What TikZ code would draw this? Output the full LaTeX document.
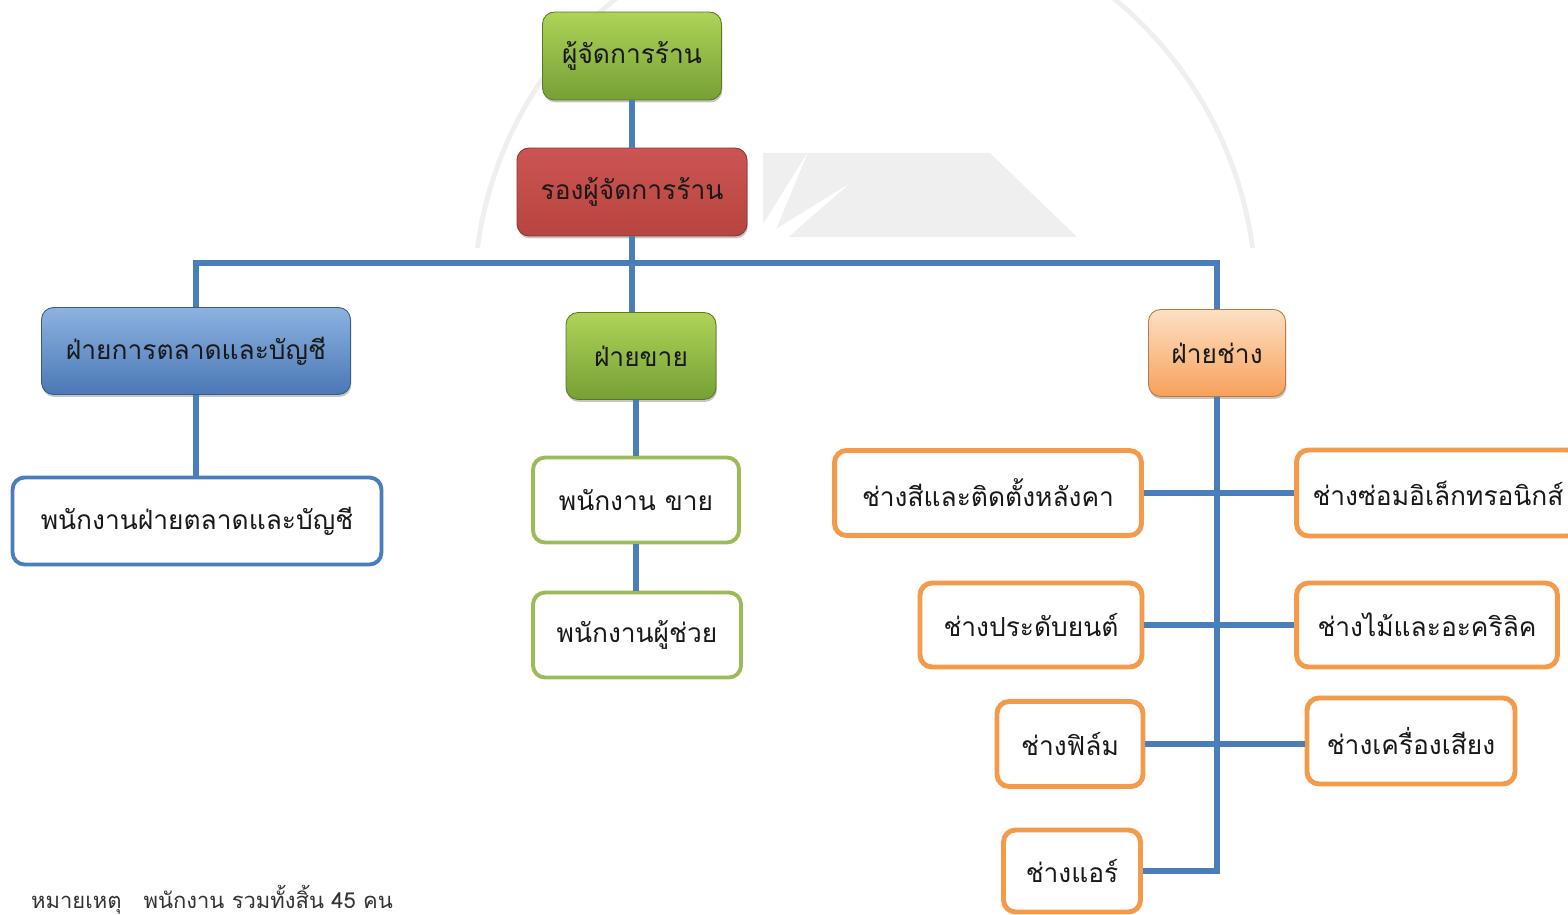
\documentclass[tikz,border=0pt]{standalone}
\usepackage{fontspec}
\newfontfamily\thaifont[Script=Thai]{Loma}
\usepackage{xcolor}
\usepackage{tikz}
\usetikzlibrary{shadows}

\definecolor{lineblue}{HTML}{4A7EBB}
\definecolor{grtop}{HTML}{AED357}
\definecolor{grbot}{HTML}{76A035}
\definecolor{rdtop}{HTML}{CB5552}
\definecolor{rdbot}{HTML}{B8443F}
\definecolor{bltop}{HTML}{8CB2E0}
\definecolor{blbot}{HTML}{4A78B5}
\definecolor{ortop}{HTML}{FDE0C4}
\definecolor{orbot}{HTML}{F7A05A}
\definecolor{orline}{HTML}{F39A4B}
\definecolor{grline}{HTML}{9BBB59}
\definecolor{wmark}{HTML}{EFEFEF}

\tikzset{
    box/.style={rounded corners=0.24cm, align=center, inner sep=2pt,
        font=\thaifont\fontsize{15}{18}\selectfont, text=black!90},
    headbox/.style={box, draw=#1!75!black, line width=0.5pt,
        drop shadow={shadow xshift=0.5pt, shadow yshift=-1.4pt, opacity=0.45}},
    greenbox/.style={headbox=grbot, top color=grtop, bottom color=grbot},
    redbox/.style={headbox=rdbot, top color=rdtop, bottom color=rdbot},
    bluebox/.style={headbox=blbot, top color=bltop, bottom color=blbot},
    orangebox/.style={headbox=orbot, top color=ortop, bottom color=orbot},
    staffbox/.style={box, fill=white, draw=#1, line width=2.2pt},
    techbox/.style={box, fill=white, draw=orline, line width=2.8pt},
    link/.style={draw=lineblue, line width=3.3pt}
}

\begin{document}
\begin{tikzpicture}[x=0.02cm, y=-0.02cm]
    % กรอบของภาพ
    \useasboundingbox (0,0) rectangle (1568,915);

    % ลายน้ำจาง ๆ ด้านหลัง
    \begin{scope}
        \clip (0,0) rectangle (1568,248);
        \draw[wmark, line width=2.8pt] (865,300) circle[radius=391];
    \end{scope}
    \fill[wmark] (763,153) -- (990,153) -- (1077,237) -- (763,237) -- cycle;
    \fill[white] (808,152) -- (776,229) -- (849,184) -- (787,238) -- (762,238) -- (762,226) -- cycle;

    % ผู้บริหาร
    \node[greenbox, minimum width=3.58cm, minimum height=1.76cm] (mgr) at (632,56) {ผู้จัดการร้าน};
    \node[redbox, minimum width=4.6cm, minimum height=1.76cm] (dep) at (632,192) {รองผู้จัดการร้าน};

    % ฝ่ายต่าง ๆ
    \node[bluebox, minimum width=6.18cm, minimum height=1.74cm] (mkt) at (196,351) {ฝ่ายการตลาดและบัญชี};
    \node[greenbox, minimum width=3.0cm, minimum height=1.74cm] (sales) at (641,356) {ฝ่ายขาย};
    \node[orangebox, minimum width=2.74cm, minimum height=1.74cm] (tech) at (1217,353) {ฝ่ายช่าง};

    % พนักงานของฝ่ายการตลาดและฝ่ายขาย
    \node[staffbox=lineblue, minimum width=7.38cm, minimum height=1.74cm] (mktstaff) at (197,521) {พนักงานฝ่ายตลาดและบัญชี};
    \node[staffbox=grline, minimum width=4.12cm, minimum height=1.7cm] (salesstaff) at (636,500) {พนักงาน ขาย};
    \node[staffbox=grline, minimum width=4.16cm, minimum height=1.7cm] (assist) at (637,635) {พนักงานผู้ช่วย};

    % ช่างแต่ละแผนก
    \node[techbox, minimum width=6.14cm, minimum height=1.7cm] (roof) at (988,493) {ช่างสีและติดตั้งหลังคา};
    \node[techbox, minimum width=5.66cm, minimum height=1.72cm] (elec) at (1438,493) {ช่างซ่อมอิเล็กทรอนิกส์};
    \node[techbox, minimum width=4.44cm, minimum height=1.68cm] (deco) at (1031,625) {ช่างประดับยนต์};
    \node[techbox, minimum width=5.22cm, minimum height=1.68cm] (wood) at (1427,625) {ช่างไม้และอะคริลิค};
    \node[techbox, minimum width=2.92cm, minimum height=1.7cm] (film) at (1070,744) {ช่างฟิล์ม};
    \node[techbox, minimum width=4.16cm, minimum height=1.72cm] (audio) at (1411,741) {ช่างเครื่องเสียง};
    \node[techbox, minimum width=2.74cm, minimum height=1.64cm] (air) at (1072,871) {ช่างแอร์};

    % เส้นเชื่อม
    \coordinate (bus) at (632,263);
    \coordinate (trunk) at (tech.south |- air.east);
    \draw[link] (mgr.south) -- (dep.north);
    \draw[link] (dep.south) -- (dep.south |- sales.north);
    \draw[link, line join=miter] (mkt.north) |- (bus) -| (tech.north);
    \draw[link] (mkt.south) -- (mkt.south |- mktstaff.north);
    \draw[link] (salesstaff.north |- sales.south) -- (salesstaff.north);
    \draw[link] (salesstaff.south) -- (salesstaff.south |- assist.north);
    \draw[link, line join=miter] (tech.south) -- (trunk) -- (air.east);
    \draw[link] (roof.east) -- (elec.west);
    \draw[link] (deco.east) -- (wood.west);
    \draw[link] (film.east) -- (audio.west |- film.east);

    % หมายเหตุ
    \node[anchor=base west, font=\thaifont\fontsize{12.5}{15}\selectfont, text=black!80] (note) at (25,908) {หมายเหตุ\quad พนักงาน รวมทั้งสิ้น 45 คน};
\end{tikzpicture}
\end{document}
